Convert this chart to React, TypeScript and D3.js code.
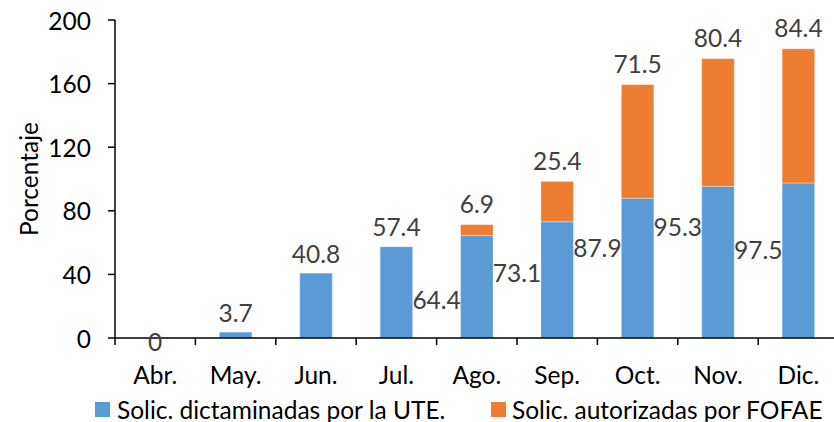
import React from 'react'
import * as d3 from 'd3'

// Solicitudes (porcentaje) por mes
const months = ['Abr.', 'May.', 'Jun.', 'Jul.', 'Ago.', 'Sep.', 'Oct.', 'Nov.', 'Dic.']
const dictaminadas = [0, 3.7, 40.8, 57.4, 64.4, 73.1, 87.9, 95.3, 97.5]
const autorizadas = [0, 0, 0, 0, 6.9, 25.4, 71.5, 80.4, 84.4]
const yTicks = [0, 40, 80, 120, 160, 200]
const seriesNames = ['Solic. dictaminadas por la UTE.', 'Solic. autorizadas por FOFAE']

// where the blue labels were left in the original (value units, 'top' = over the bar)
const blueLabelAt: (number | 'top')[] = [-2, 'top', 'top', 'top', 24.5, 41, 57, 70, 55.5]

const W = 834
const H = 422
const blue = '#5B9BD5'
const orange = '#ED7D31'
const font = 'Lato, "Noto Sans", sans-serif'
const fs = 24.5

const x0 = 115
const step = 80.4

const xScale = d3.scaleBand()
  .domain(months)
  .range([x0, x0 + step * months.length])
  .paddingInner(0.595)
  .paddingOuter(0.2975)

const yScale = d3.scaleLinear()
  .domain([0, 200])
  .range([338, 20])

const stackData = months.map((m, i) => ({ month: m, a: dictaminadas[i], b: autorizadas[i] }))
const stacked = d3.stack<any>().keys(['a', 'b'])(stackData)

export default function App() {
  const bw = xScale.bandwidth()
  const center = (m: string) => (xScale(m) as number) + bw / 2
  const [r0, r1] = xScale.range()

  return (
    <svg width={W} height={H} style={{ position: 'absolute', left: 0, top: 0 }} fontFamily={font}>
      <rect width={W} height={H} fill="#fff" />

      {/* bars */}
      {stacked.map((layer, li) => (
        <g key={li} fill={li === 0 ? blue : orange}>
          {layer.map((d, i) => {
            const h = yScale(d[0]) - yScale(d[1])
            if (h <= 0) return null
            return (
              <rect key={i} x={xScale(months[i])} y={yScale(d[1])} width={bw} height={h}
                stroke="#ffffff" strokeOpacity={0.35} strokeWidth={1} />
            )
          })}
        </g>
      ))}

      {/* y axis */}
      <line x1={r0} x2={r0} y1={yScale(200)} y2={yScale(0)} stroke="#000" strokeWidth={1.5} />
      {yTicks.map(t => (
        <g key={t}>
          <line x1={r0 - 7} x2={r0} y1={yScale(t)} y2={yScale(t)} stroke="#000" strokeWidth={1.5} />
          <text x={r0 - 24} y={yScale(t)} textAnchor="end" dominantBaseline="central" fontSize={fs} fill="#000">{t}</text>
        </g>
      ))}
      <text transform={`translate(28,${(yScale(0) + yScale(200)) / 2}) rotate(-90)`} textAnchor="middle"
        dominantBaseline="central" fontSize={fs} fill="#000">Porcentaje</text>

      {/* x axis */}
      <line x1={r0} x2={r1} y1={yScale(0)} y2={yScale(0)} stroke="#000" strokeWidth={1.5} />
      {d3.range(months.length + 1).map(i => (
        <line key={i} x1={r0 + i * step} x2={r0 + i * step} y1={yScale(0)} y2={yScale(0) + 7} stroke="#000" strokeWidth={1.5} />
      ))}
      {months.map(m => (
        <text key={m} x={center(m)} y={374} textAnchor="middle" dominantBaseline="central" fontSize={fs} fill="#000">{m}</text>
      ))}

      {/* labels, blue series */}
      {months.map((m, i) => {
        const at = blueLabelAt[i]
        const isTop = at === 'top'
        const lx = isTop || i === 0 ? center(m) : center(m) - step / 2
        const ly = isTop ? yScale(dictaminadas[i]) - 20 : yScale(at as number)
        return (
          <text key={m} x={lx} y={ly} textAnchor="middle" dominantBaseline="central" fontSize={fs} fill="#404040">
            {dictaminadas[i]}
          </text>
        )
      })}

      {/* labels, orange series */}
      {months.map((m, i) => autorizadas[i] > 0 ? (
        <text key={m} x={center(m)} y={yScale(dictaminadas[i] + autorizadas[i]) - 21} textAnchor="middle"
          dominantBaseline="central" fontSize={fs} fill="#404040">
          {autorizadas[i]}
        </text>
      ) : null)}

      {/* legend */}
      <rect x={95} y={402} width={15} height={15} fill={blue} />
      <text x={117} y={409} dominantBaseline="central" fontSize={fs} fill="#000">{seriesNames[0]}</text>
      <rect x={491} y={402} width={15} height={15} fill={orange} />
      <text x={512} y={409} dominantBaseline="central" fontSize={fs} fill="#000">{seriesNames[1]}</text>
    </svg>
  )
}
